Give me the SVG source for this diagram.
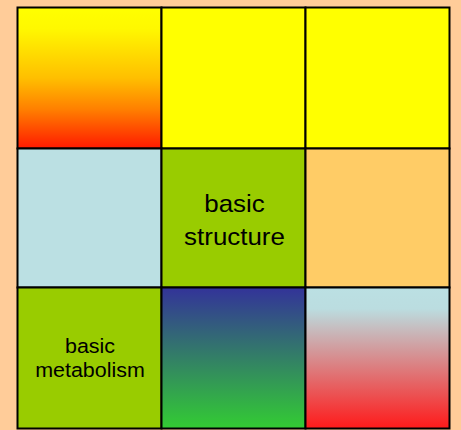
<svg xmlns="http://www.w3.org/2000/svg" width="461" height="430" viewBox="0 0 461 430">
<defs>
<linearGradient id="g1" x1="0" y1="0" x2="0" y2="1"><stop offset="0" stop-color="#FFFF00"/><stop offset="0.15" stop-color="#FFF800"/><stop offset="0.5" stop-color="#FFBF00"/><stop offset="0.72" stop-color="#FF8000"/><stop offset="1" stop-color="#FF1A00"/></linearGradient>
<linearGradient id="g2" x1="0" y1="0" x2="0" y2="1"><stop offset="0" stop-color="#333399"/><stop offset="1" stop-color="#33CC33"/></linearGradient>
<linearGradient id="g3" x1="0" y1="0" x2="0" y2="1"><stop offset="0" stop-color="#BBE0E3"/><stop offset="0.15" stop-color="#BBDDE0"/><stop offset="1" stop-color="#FF1A1A"/></linearGradient>
</defs>
<style>
.c{stroke:#000;stroke-width:2}
.t{font-family:"Liberation Sans",Arial,sans-serif;fill:#000;text-anchor:middle}
</style>
<rect width="461" height="430" fill="#FFCC99"/>
<g id="cell11"><rect class="c" x="17.5" y="7.5" width="144" height="141" fill="url(#g1)"/></g>
<g id="cell12"><rect class="c" x="161.5" y="7.5" width="144" height="141" fill="#FFFF00"/></g>
<g id="cell13"><rect class="c" x="305.5" y="7.5" width="144" height="141" fill="#FFFF00"/></g>
<g id="cell21"><rect class="c" x="17.5" y="148.5" width="144" height="139" fill="#BBE0E3"/></g>
<g id="cell22"><rect class="c" x="161.5" y="148.5" width="144" height="139" fill="#99CC00"/>
<g transform="translate(234.5,0) scale(1.08,1)">
<text class="t" x="0" y="212.5" font-size="24">basic</text>
<text class="t" x="0" y="245" font-size="24">structure</text></g></g>
<g id="cell23"><rect class="c" x="305.5" y="148.5" width="144" height="139" fill="#FFCC66"/></g>
<g id="cell31"><rect class="c" x="17.5" y="287.5" width="144" height="141" fill="#99CC00"/>
<g transform="translate(90,0) scale(1.1,1)">
<text class="t" x="0" y="353" font-size="19.5">basic</text>
<text class="t" x="0" y="377.5" font-size="19.5">metabolism</text></g></g>
<g id="cell32"><rect class="c" x="161.5" y="287.5" width="144" height="141" fill="url(#g2)"/></g>
<g id="cell33"><rect class="c" x="305.5" y="287.5" width="144" height="141" fill="url(#g3)"/></g>
<g id="connectors"/>
</svg>
